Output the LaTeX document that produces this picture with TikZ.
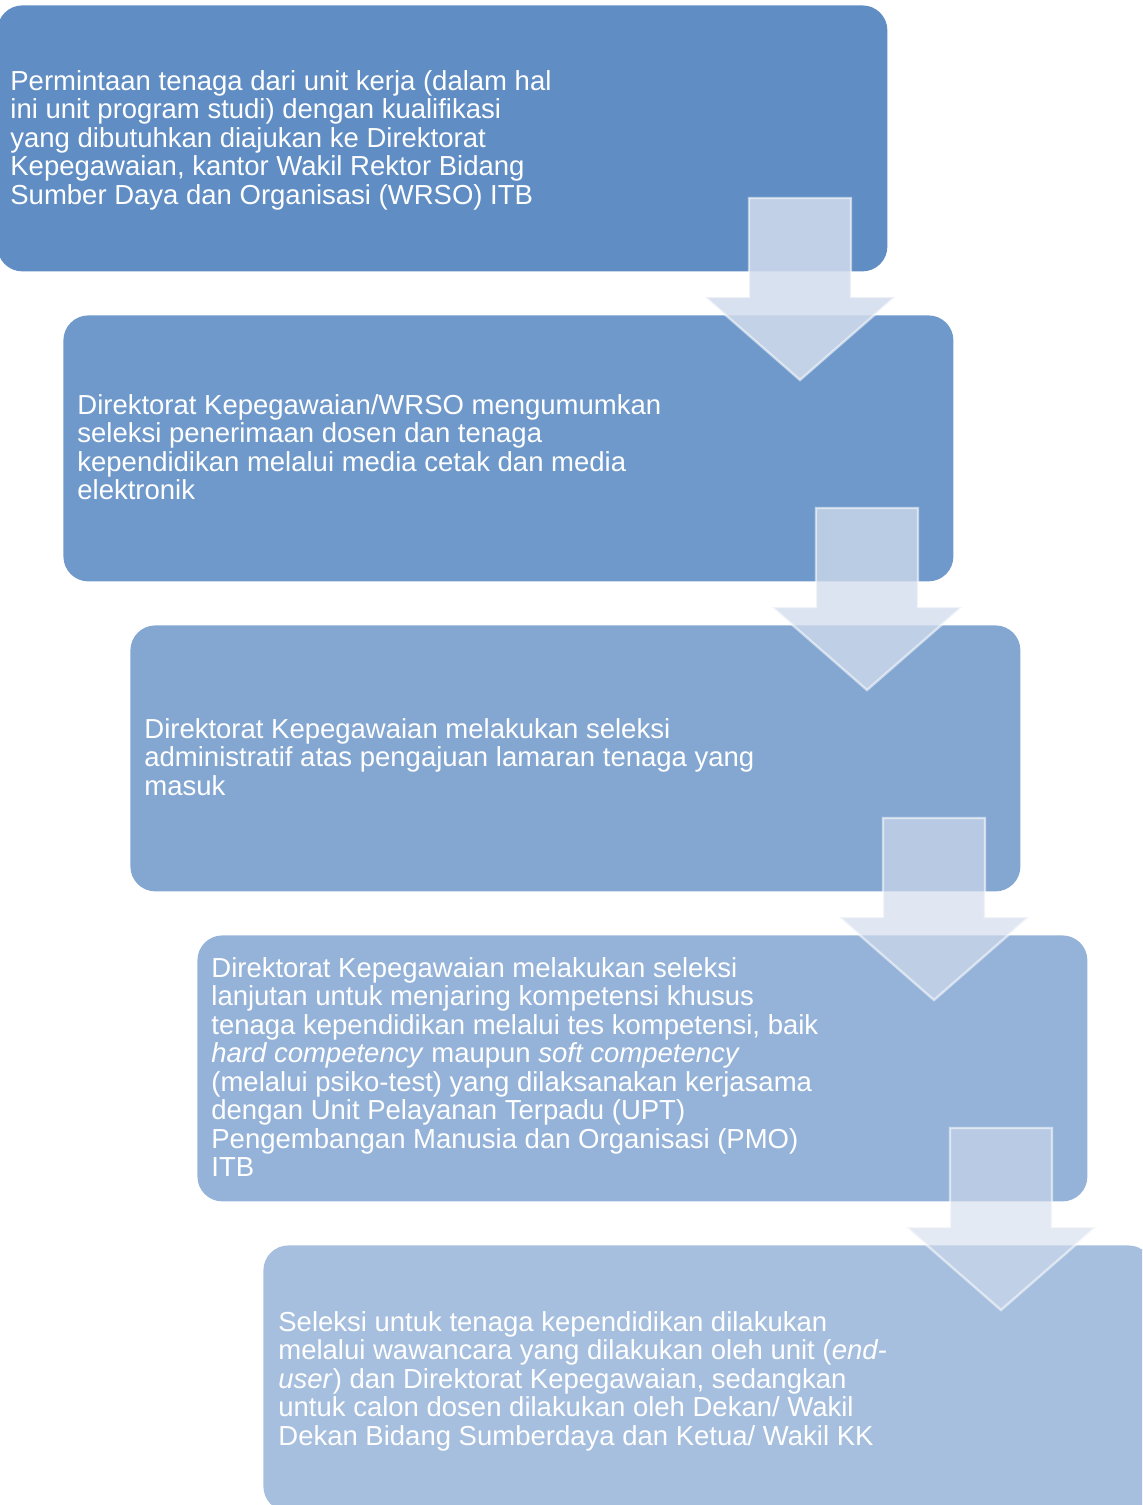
\documentclass[tikz,border=0pt]{standalone}
\usepackage{fontspec}
\setmainfont{Liberation Sans}
\definecolor{bA}{RGB}{95,141,196}
\definecolor{bB}{RGB}{111,153,203}
\definecolor{bC}{RGB}{132,167,210}
\definecolor{bD}{RGB}{149,179,217}
\definecolor{bE}{RGB}{167,191,222}
\definecolor{arrowcol}{RGB}{210,220,236}
\begin{document}
\begin{tikzpicture}[x=0.5pt,y=-0.5pt,
  stage/.style={fill=#1, draw=none, rounded corners=12.5pt, anchor=north west,
    minimum width=445pt, minimum height=133pt, inner sep=0pt},
  stagetext/.style={anchor=base west, inner sep=0pt, text=white},
  arrowfill/.style={fill=arrowcol, fill opacity=#1, draw=white, draw opacity=0.55, line width=1.2pt, line join=miter},
  darrow/.pic={\path[arrowfill=\pgfkeysvalueof{/tikz/arrowalpha}] (-51,0) -- (51,0) -- (51,99) -- (95,99) -- (0,182) -- (-95,99) -- (-51,99) -- cycle;},
  arrowalpha/.initial=0.75
]
\useasboundingbox (0,0) rectangle (1142,1505);
\clip (0,0) rectangle (1142,1505);
\newcommand{\stagebody}[1]{\parbox[t]{440pt}{\fontsize{13.75pt}{14.25pt}\selectfont\raggedright #1}}

\node[stage=bA] (b1) at (-3,5) {};
\node[stage=bB] (b2) at (63,315) {};
\node[stage=bC] (b3) at (130,625) {};
\node[stage=bD] (b4) at (197,935) {};
\node[stage=bE] (b5) at (263,1245) {};

\pic[arrowalpha=0.86] (a1) at (800,198) {darrow};
\pic[arrowalpha=0.76] (a2) at (867,508) {darrow};
\pic[arrowalpha=0.68] (a3) at (934,818) {darrow};
\pic[arrowalpha=0.60] (a4) at (1001,1128) {darrow};

\node[stagetext] (t1) at (10,90) {\stagebody{Permintaan tenaga dari unit kerja (dalam hal\\
ini unit program studi) dengan kualifikasi\\
yang dibutuhkan diajukan ke Direktorat\\
Kepegawaian, kantor Wakil Rektor Bidang\\
Sumber Daya dan Organisasi (WRSO) ITB}};

\node[stagetext] (t2) at (77,414) {\stagebody{Direktorat Kepegawaian/WRSO mengumumkan\\
seleksi penerimaan dosen dan tenaga\\
kependidikan melalui media cetak dan media\\
elektronik}};

\node[stagetext] (t3) at (144,738) {\stagebody{Direktorat Kepegawaian melakukan seleksi\\
administratif atas pengajuan lamaran tenaga yang\\
masuk}};

\node[stagetext] (t4) at (211,977) {\stagebody{Direktorat Kepegawaian melakukan seleksi\\
lanjutan untuk menjaring kompetensi khusus\\
tenaga kependidikan melalui tes kompetensi, baik\\
\textit{hard competency} maupun \textit{soft competency}\\
(melalui psiko-test) yang dilaksanakan kerjasama\\
dengan Unit Pelayanan Terpadu (UPT)\\
Pengembangan Manusia dan Organisasi (PMO)\\
ITB}};

\node[stagetext] (t5) at (278,1331) {\stagebody{Seleksi untuk tenaga kependidikan dilakukan\\
melalui wawancara yang dilakukan oleh unit (\textit{end-}\\
\textit{user}) dan Direktorat Kepegawaian, sedangkan\\
untuk calon dosen dilakukan oleh Dekan/ Wakil\\
Dekan Bidang Sumberdaya dan Ketua/ Wakil KK}};
\end{tikzpicture}
\end{document}
